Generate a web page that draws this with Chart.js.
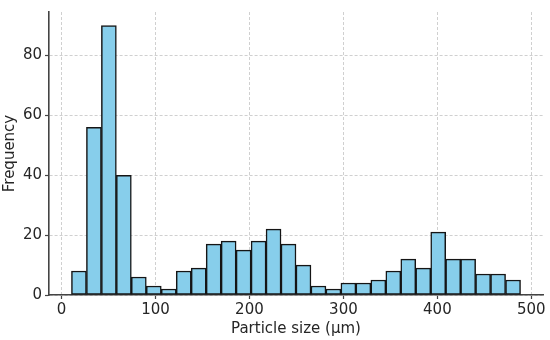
<!DOCTYPE html>
<html>
<head>
<meta charset="utf-8">
<script src="https://cdn.jsdelivr.net/npm/chart.js@4.4.1/dist/chart.umd.min.js"></script>
<style>
  html, body { margin: 0; padding: 0; background: #ffffff; }
  #wrap { width: 550px; height: 340px; position: relative; }
</style>
</head>
<body>
<div id="wrap"><canvas id="c" width="550" height="340"></canvas></div>
<script>
// Histogram bins (particle size, µm)
const binStart = 10.6;
const binWidth = 15.93;
const frequencies = [8, 56, 90, 40, 6, 3, 2, 8, 9, 17, 18, 15, 18, 22, 17, 10, 3, 2, 4, 4, 5, 8, 12, 9, 21, 12, 12, 7, 7, 5];
const xTicks = [0, 100, 200, 300, 400, 500];
const yTicks = [0, 20, 40, 60, 80];
const xLabel = 'Particle size (μm)';
const yLabel = 'Frequency';

const binCenters = frequencies.map((_, i) => binStart + binWidth * (i + 0.5));
const points = frequencies.map((f, i) => ({ x: binCenters[i], y: f }));
const binEnd = binStart + binWidth * frequencies.length;
const span = binEnd - binStart;

const font = { family: 'DejaVu Sans', size: 15 };
const textColor = '#262626';
const axisColor = '#444444';

new Chart(document.getElementById('c'), {
  type: 'bar',
  data: {
    datasets: [{
      data: points,
      backgroundColor: '#87CEEB',
      borderColor: '#151515',
      borderWidth: 1.5,
      borderSkipped: false,
      barPercentage: 1.0,
      categoryPercentage: 1.0
    }]
  },
  options: {
    responsive: false,
    animation: false,
    layout: { padding: { top: 6, right: 7, left: 0, bottom: 0 } },
    plugins: { legend: { display: false }, tooltip: { enabled: false } },
    scales: {
      x: {
        type: 'linear',
        offset: false,
        min: binStart - 0.05 * span,
        max: binEnd + 0.05 * span,
        afterBuildTicks: s => { s.ticks = xTicks.map(v => ({ value: v })); },
        afterFit: s => { s.height = 45; },
        ticks: { font, color: textColor, padding: 2, maxRotation: 0 },
        grid: { offset: false, color: '#d0d0d0', lineWidth: 1, tickLength: 4, tickColor: axisColor, tickWidth: 1.2 },
        border: { display: true, color: axisColor, width: 1.6, dash: [3, 2] },
        title: { display: true, text: xLabel, font, color: textColor, padding: { top: 0, bottom: 2 } }
      },
      y: {
        type: 'linear',
        min: 0,
        max: 94.5,
        afterBuildTicks: s => { s.ticks = yTicks.map(v => ({ value: v })); },
        afterFit: s => { s.width = 49; },
        ticks: { font, color: textColor, padding: 3 },
        grid: { color: '#d0d0d0', lineWidth: 1, tickLength: 4, tickColor: axisColor, tickWidth: 1.2 },
        border: { display: true, color: axisColor, width: 1.6, dash: [3, 2] },
        title: { display: true, text: yLabel, font, color: textColor, padding: { top: 1, bottom: 0 } }
      }
    }
  }
});
</script>
</body>
</html>
